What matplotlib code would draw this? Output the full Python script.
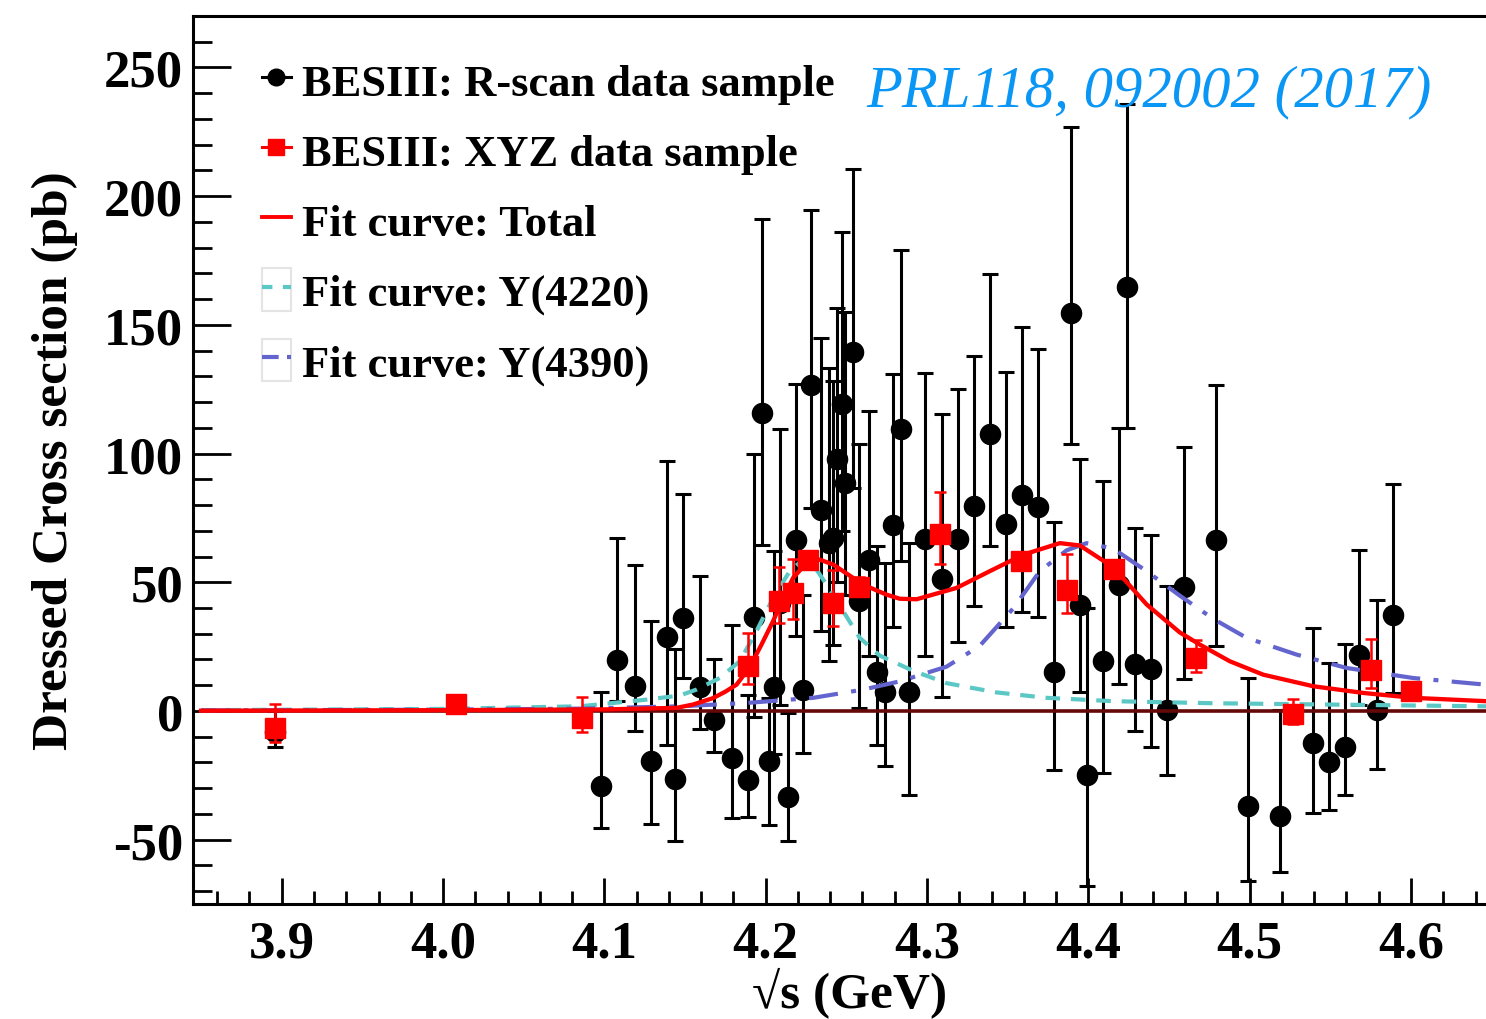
import numpy as np
import matplotlib.pyplot as plt
from matplotlib.lines import Line2D
from matplotlib.patches import Rectangle
from matplotlib.legend_handler import HandlerTuple
from matplotlib.ticker import MultipleLocator, FormatStrFormatter

plt.rcParams['font.family'] = ['Liberation Serif', 'DejaVu Serif']
plt.rcParams['font.weight'] = 'bold'
plt.rcParams['axes.labelweight'] = 'bold'
plt.rcParams['axes.unicode_minus'] = False

# R-scan data sample (black): energy, value, lower end of bar, upper end of bar
rscan_x = [3.896, 4.098, 4.108, 4.119, 4.129, 4.139, 4.144, 4.149, 4.159, 4.168,
           4.179, 4.189, 4.193, 4.198, 4.202, 4.205, 4.209, 4.214, 4.219, 4.223,
           4.228, 4.234, 4.239, 4.242, 4.244, 4.247, 4.249, 4.254, 4.258, 4.264,
           4.269, 4.274, 4.279, 4.284, 4.289, 4.299, 4.309, 4.319, 4.329, 4.339,
           4.349, 4.359, 4.369, 4.379, 4.389, 4.395, 4.399, 4.409, 4.419, 4.424,
           4.429, 4.439, 4.449, 4.459, 4.479, 4.499, 4.519, 4.539, 4.549, 4.559,
           4.568, 4.579, 4.589]
rscan_y = [-8.0, -29.2, 19.8, 9.7, -19.3, 28.6, -26.4, 36.2, 9.2, -3.4,
           -18.3, -26.7, 36.4, 115.9, -19.6, 9.2, 42.0, -33.6, 66.6, 8.3,
           126.6, 77.9, 65.3, 67.3, 97.7, 119.1, 88.6, 139.6, 42.6, 58.8,
           15.2, 7.4, 72.3, 109.4, 7.2, 66.7, 51.1, 66.9, 79.6, 107.5,
           72.8, 83.8, 79.3, 15.2, 154.7, 41.0, -25.0, 19.6, 49.1, 164.7,
           18.3, 16.4, 0.3, 48.2, 66.3, -36.8, -41.0, -12.4, -20.0, -14.1,
           21.7, 0.5, 37.1]
rscan_lo = [-14.0, -45.5, 3.9, -7.6, -44.0, -13.1, -50.4, 12.8, -6.9, -16.0,
            -41.6, -41.3, -2.5, 64.6, -44.2, -16.8, 2.4, -50.4, 29.3, -16.3,
            78.9, 31.0, 19.3, 25.8, 50.0, 70.0, 45.0, 86.7, 1.2, 21.3,
            -13.1, -21.3, 32.5, 58.3, -32.8, 21.2, 5.4, 26.9, 40.6, 64.0,
            32.5, 38.5, 36.5, -23.1, 103.9, 7.2, -68.2, -24.0, 10.5, 110.0,
            -7.8, -13.9, -25.0, 12.4, 25.3, -66.2, -62.7, -39.7, -38.4, -32.5,
            2.2, -22.4, 7.0]
rscan_hi = [0.0, 7.4, 67.3, 56.9, 34.9, 97.3, 24.2, 84.4, 52.4, 20.0,
            33.3, 6.3, 99.9, 191.0, 5.0, 62.1, 109.4, -0.8, 127.1, 45.0,
            194.7, 144.8, 133.1, 128.2, 156.7, 186.2, 155.0, 210.5, 103.8, 116.5,
            64.0, 57.5, 131.0, 179.0, 65.2, 131.3, 115.2, 124.9, 137.8, 169.9,
            131.6, 149.1, 140.5, 73.3, 226.7, 97.8, 40.1, 89.3, 110.0, 236.0,
            70.9, 68.4, 48.6, 102.6, 126.5, 12.8, 0.5, 32.3, 18.7, 26.0,
            62.5, 43.3, 88.3]

# XYZ data sample (red)
xyz_x = [3.896, 4.008, 4.086, 4.189, 4.208, 4.217, 4.226, 4.242, 4.258,
         4.308, 4.358, 4.387, 4.416, 4.467, 4.527, 4.575, 4.600]
xyz_y = [-6.6, 2.7, -2.7, 17.4, 42.9, 45.9, 58.8, 42.0, 48.2,
         68.8, 58.3, 47.0, 55.1, 20.7, -1.0, 16.1, 7.9]
xyz_lo = [-12.0, 0.5, -8.0, 10.5, 34.2, 35.9, 55.8, 32.9, 44.5,
          57.1, 55.0, 38.2, 52.0, 15.2, -5.0, 8.9, 5.5]
xyz_hi = [2.7, 4.5, 5.4, 30.3, 55.9, 59.1, 61.8, 54.9, 52.0,
          85.2, 61.5, 61.0, 58.2, 27.7, 4.8, 28.0, 10.3]

# fit curves
tot_x = [3.85, 4.00, 4.10, 4.1447, 4.155, 4.1674, 4.175, 4.1819, 4.1901, 4.1974,
         4.2046, 4.2108, 4.2170, 4.2253, 4.2335, 4.2418, 4.2542, 4.2625, 4.2749,
         4.2831, 4.2935, 4.3183, 4.3389, 4.3596, 4.3823, 4.3947, 4.4154, 4.4361,
         4.4567, 4.4691, 4.4877, 4.5084, 4.5394, 4.5704, 4.6014, 4.6465]
tot_y = [0.1, 0.3, 0.6, 1.2, 2.5, 5.0, 7.5, 10.2, 17.0, 25.8,
         34.9, 43.9, 51.7, 57.5, 58.8, 56.9, 51.7, 48.5, 45.2,
         43.6, 43.4, 47.8, 54.3, 60.7, 65.2, 64.3, 55.9, 41.4,
         30.5, 25.8, 19.3, 14.1, 9.6, 7.0, 5.1, 3.8]

y4220_x = [3.85, 4.00, 4.0847, 4.1054, 4.1261, 4.1467, 4.1571, 4.1715, 4.1839, 4.1943,
           4.2046, 4.2149, 4.2222, 4.2294, 4.2377, 4.2480, 4.2583, 4.2707, 4.2914,
           4.3121, 4.3431, 4.3741, 4.4154, 4.4774, 4.6465]
y4220_y = [0.3, 0.8, 1.8, 3.1, 4.4, 6.0, 8.3, 12.8, 19.3, 31.0,
           43.9, 54.3, 58.2, 56.9, 49.1, 38.8, 28.4, 21.5, 15.6,
           10.8, 7.2, 5.1, 3.8, 3.0, 1.8]

y4390_x = [3.85, 4.00, 4.0847, 4.1467, 4.1881, 4.2294, 4.2604, 4.2831, 4.3121, 4.3327,
           4.3534, 4.3699, 4.3865, 4.3989, 4.4154, 4.4361, 4.4567, 4.4774, 4.4981,
           4.5291, 4.5601, 4.6014, 4.6465]
y4390_y = [0.2, 0.5, 0.9, 1.8, 3.1, 5.1, 8.3, 11.5, 17.2, 25.3,
           39.8, 54.3, 62.4, 65.2, 63.1, 54.3, 44.8, 35.8, 28.4,
           21.9, 16.7, 12.8, 10.2]

rscan_x = np.array(rscan_x); rscan_y = np.array(rscan_y)
xyz_x = np.array(xyz_x); xyz_y = np.array(xyz_y)
rscan_err = [rscan_y - np.array(rscan_lo), np.array(rscan_hi) - rscan_y]
xyz_err = [xyz_y - np.array(xyz_lo), np.array(xyz_hi) - xyz_y]

fig = plt.figure(figsize=(14.86, 10.2), dpi=100)
ax = fig.add_axes([193 / 1486, 115 / 1020, 1293 / 1486, 888 / 1020])

c_cyan = '#5cc8c6'
c_blue = '#6464cf'
c_red = '#ff0000'

ax.errorbar(rscan_x, rscan_y, yerr=rscan_err, fmt='o', color='black', ms=14.5,
            elinewidth=2.2, capsize=5.5, capthick=2.2, zorder=3)
ax.hlines(0, tot_x[0], 4.6465, color='#640808', lw=2.6, zorder=4)
ax.plot(y4220_x, y4220_y, color=c_cyan, lw=3.0, ls=(0, (3.5, 2.6)), zorder=5)
ax.plot(y4390_x, y4390_y, color=c_blue, lw=3.0, ls=(0, (7, 3.2, 1.2, 3.2)), zorder=5)
ax.plot(tot_x, tot_y, color=c_red, lw=3.1, zorder=6)
ax.errorbar(xyz_x, xyz_y, yerr=xyz_err, fmt='s', color=c_red, ms=15,
            elinewidth=1.8, capsize=4.5, capthick=1.8, zorder=7)

ax.set_xlim(3.845, 4.6465)
ax.set_ylim(-75, 270)
ax.xaxis.set_major_locator(MultipleLocator(0.1))
ax.xaxis.set_minor_locator(MultipleLocator(0.02))
ax.xaxis.set_major_formatter(FormatStrFormatter('%.1f'))
ax.yaxis.set_major_locator(MultipleLocator(50))
ax.yaxis.set_minor_locator(MultipleLocator(10))
ax.tick_params(axis='both', which='both', direction='in', top=False, right=False, width=2)
ax.tick_params(axis='y', which='major', length=27.5, labelsize=38, pad=7)
ax.tick_params(axis='y', which='minor', length=13.7)
ax.tick_params(axis='x', which='major', length=19, labelsize=38, pad=11)
ax.tick_params(axis='x', which='minor', length=9.5)
for s in ['left', 'bottom', 'top']:
    ax.spines[s].set_linewidth(2.2)
ax.spines['right'].set_visible(False)

ax.set_ylabel('Dressed Cross section (pb)', fontsize=37, fontweight='bold')
ax.yaxis.set_label_coords(-0.089, 0.5)
ax.set_xlabel('√s (GeV)', fontsize=37, fontweight='bold', va='top')
ax.xaxis.set_label_coords(0.508, -0.07)

box = dict(facecolor='white', edgecolor='#e4e4e4', lw=1.5)
h1 = Line2D([], [], color='black', marker='o', ms=12, lw=2.2)
h2 = Line2D([], [], color=c_red, marker='s', ms=12, lw=2.2)
h3 = Line2D([], [], color=c_red, lw=2.8)
h4 = (Rectangle((0, 0), 1, 1, **box), Line2D([], [], color=c_cyan, lw=3, ls=(0, (2.5, 2.5))))
h5 = (Rectangle((0, 0), 1, 1, **box), Line2D([], [], color=c_blue, lw=3, ls=(0, (4, 2, 1, 2))))
ax.legend([h1, h2, h3, h4, h5],
          ['BESIII: R-scan data sample', 'BESIII: XYZ data sample', 'Fit curve: Total',
           'Fit curve: Y(4220)', 'Fit curve: Y(4390)'],
          handler_map={tuple: HandlerTuple(ndivide=1)},
          loc='upper left', bbox_to_anchor=(0.036, 0.977), frameon=False,
          fontsize=32, borderpad=0, handlelength=0.65, handleheight=1.1,
          handletextpad=0.25, labelspacing=0.55, numpoints=1)

fig.text(866 / 1486, 1 - 106 / 1020, 'PRL118, 092002 (2017)', color='#0a96f5',
         fontsize=42.3, fontstyle='italic', fontweight='normal', va='baseline', ha='left')

fig.savefig('out.png', dpi=100)
